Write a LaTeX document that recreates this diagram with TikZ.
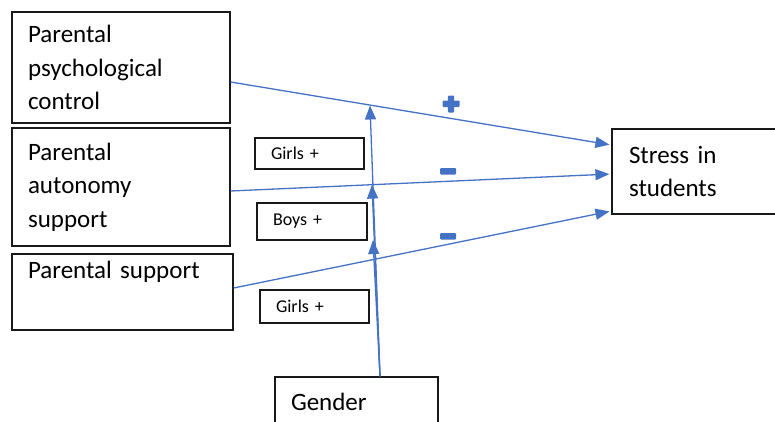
\documentclass[tikz,border=0pt]{standalone}
\usepackage{fontspec}
\setmainfont{Carlito}
\usetikzlibrary{arrows.meta,calc}
\definecolor{arrowblue}{HTML}{4472C4}
\begin{document}
\begin{tikzpicture}[x=1pt,y=-1pt,
  box/.style={draw=black!90, line width=1.2pt, rectangle, inner ysep=0pt, inner xsep=16pt, align=left, font=\fontsize{25}{33.5}\selectfont},
  smallbox/.style={draw=black!90, line width=1.2pt, rectangle, inner ysep=0pt, inner xsep=16pt, align=left, font=\fontsize{18}{22}\selectfont},
  conn/.style={draw=arrowblue, line width=1.3pt, -{Triangle[length=14pt,width=11pt]}},
  sign/.style={fill=arrowblue, draw=none, rounded corners=1pt}]
\useasboundingbox (0,0) rectangle (775,421);
\clip (0,0) rectangle (775,421);
\fill[white] (0,0) rectangle (775,421);

\node[box, minimum width=218pt, minimum height=111pt, text width=186pt] (b1) at (121,67.5) {\raisebox{-2pt}{}Parental\\psychological\\control};
\node[box, minimum width=218pt, minimum height=118pt, text width=186pt] (b2) at (121,187) {Parental\\autonomy\\support};
\node[box, minimum width=221pt, minimum height=76pt, text width=189pt] (b3) at (122.5,292) {Parental support\\\strut};
\node[box, minimum width=178pt, minimum height=85pt, inner xsep=17pt, text width=144pt] (st) at (701,171.5) {Stress in\\students};
\node[box, minimum width=163pt, minimum height=50pt, text width=131pt] (g) at (356.5,402) {Gender};

\node[smallbox, minimum width=109pt, minimum height=31pt, text width=77pt] (gi1) at (309.5,153.5) {Girls +};
\node[smallbox, minimum width=110pt, minimum height=37pt, text width=78pt] (bo) at (312,221.5) {Boys +};
\node[smallbox, minimum width=109pt, minimum height=33pt, text width=77pt] (gi2) at (314.5,306.5) {Girls +};

\coordinate (s1) at (b1.east |- 0,82);
\coordinate (s2) at (b2.east |- 0,191);
\coordinate (s3) at (b3.east |- 0,288);
\coordinate (t1) at (st.west |- 0,145);
\coordinate (t2) at (st.west |- 0,174);
\coordinate (t3) at (st.west |- 0,211);
\draw[conn, shorten >=2pt] (s1) -- (t1);
\draw[conn, shorten >=2pt] (s2) -- (t2);
\draw[conn, shorten >=2pt] (s3) -- (t3);

\coordinate (gs) at (g.north -| 380,0);
\coordinate (m1) at (370,105.5);
\coordinate (m2) at (372,184.6);
\coordinate (m3) at (373,240);
\draw[conn] (gs) -- (m1);
\draw[conn] (gs) -- (m2);
\draw[conn] (gs) -- (m3);

\fill[sign] (442.5,100.5) rectangle (459.5,107);
\fill[sign] (447.8,95.5) rectangle (454.2,112.5);
\fill[sign] (440,168) rectangle (456,174.5);
\fill[sign] (440,233) rectangle (456,239.5);
\end{tikzpicture}
\end{document}
